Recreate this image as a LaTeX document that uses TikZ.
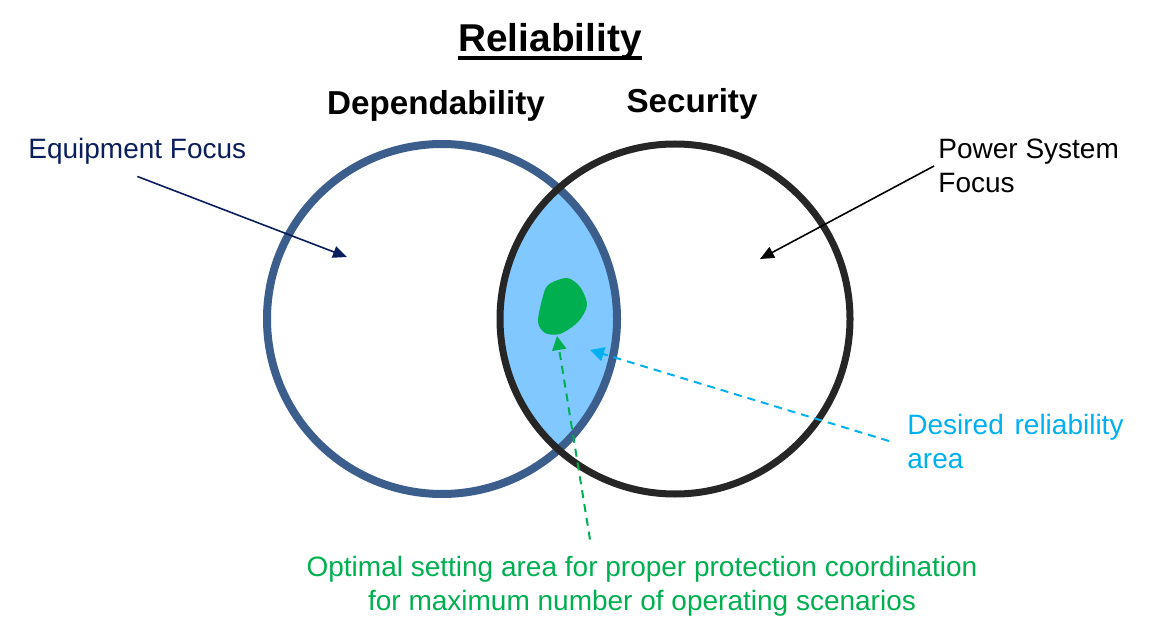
\documentclass[tikz,border=0pt]{standalone}
\usepackage{fontspec}
\setmainfont{Liberation Sans}
\usetikzlibrary{positioning,arrows.meta}
\definecolor{depblue}{HTML}{3B5E8C}
\definecolor{secblack}{HTML}{262626}
\definecolor{lensblue}{HTML}{80C8FF}
\definecolor{optgreen}{HTML}{00B050}
\definecolor{desblue}{HTML}{00B0F0}
\definecolor{eqnavy}{HTML}{0A1E5E}

\begin{document}
\begin{tikzpicture}[x=0.5pt,y=-0.5pt,
  lbl/.style={font=\fontsize{14}{17}\selectfont,inner sep=2pt},
  head/.style={font=\fontsize{16.6}{20}\selectfont\bfseries,inner sep=0pt,anchor=base},
  dasharrow/.style={line width=1pt,dash pattern=on 4pt off 3pt,-{Triangle[length=7pt,width=7pt]}},
  ptr/.style={line width=0.8pt,-{Triangle[length=7pt,width=6pt]}}]
\useasboundingbox (0,0) rectangle (1176,641);
% overlap of the two circles
\begin{scope}
  \clip (442,319) circle[radius=175];
  \fill[lensblue] (675,319) circle[radius=175];
\end{scope}
% optimal setting blob
\fill[optgreen] plot[smooth cycle] coordinates {
  (548,285)(567,278)(580,287)(587,305)(578,322)(560,334)(545,333)(538,322)(542,300)};
\draw[depblue,line width=4pt] (442,319) circle[radius=175];
\draw[secblack,line width=3.5pt] (675,319) circle[radius=175];
% headings
\node[head,font=\fontsize{19.4}{23}\selectfont\bfseries] (ttl) at (550,52) {Reliability};
\draw[line width=2pt] ([yshift=-3pt]ttl.base west) -- ([yshift=-3pt]ttl.base east);
\node[head] (dep) at (436,115) {Dependability};
\node[head] (sec) at (692,113) {Security};
% labels
\node[lbl,anchor=west,text=eqnavy] (eqlbl) at (24,151) {Equipment Focus};
\node[lbl,anchor=west,align=left] (pslbl) at (934,166) {Power System\\Focus};
\node[lbl,anchor=west,align=left,text=desblue] (deslbl) at (903,441) {Desired\hspace{1.5pt} reliability\\area};
\node[lbl,align=center,text=optgreen] (optlbl) at (642,586) {Optimal setting area for proper protection coordination\\for maximum number of operating scenarios};
% arrow ends
\coordinate (eqtip) at (347,257);
\coordinate (pstip) at (760,259);
\coordinate (destip) at (590,350);
\coordinate (opttip) at (557,336);
\draw[ptr,eqnavy] ([yshift=-4pt]eqlbl.south) -- (eqtip);
\draw[ptr,black] (pslbl.west) -- (pstip);
\draw[dasharrow,desblue] ([xshift=-7pt]deslbl.west) -- (destip);
\draw[dasharrow,optgreen] ([xshift=-26pt,yshift=6pt]optlbl.north) -- (opttip);
\end{tikzpicture}
\end{document}
